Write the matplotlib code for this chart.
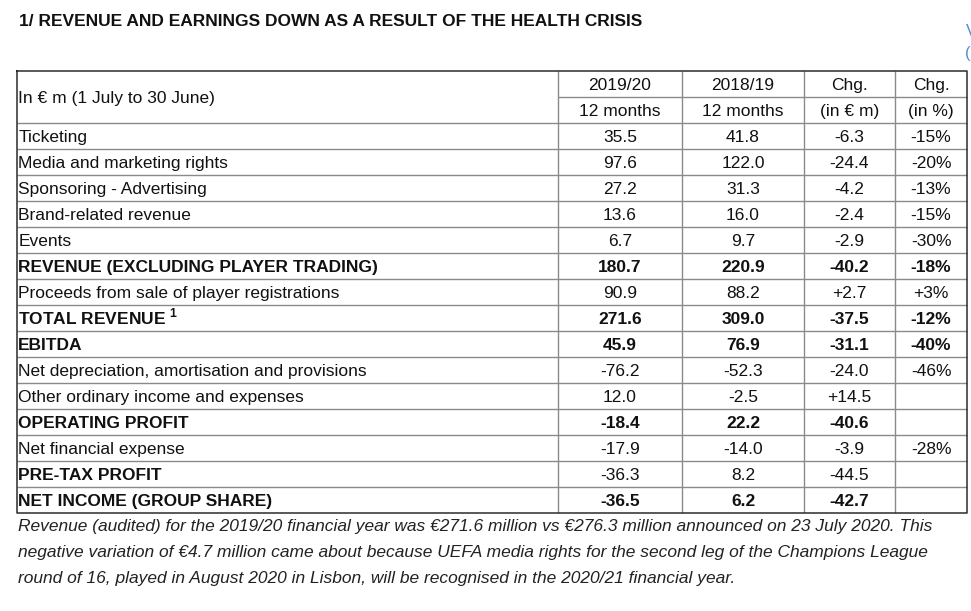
#!/usr/bin/env python3

import matplotlib
matplotlib.use( 'Agg' )
import matplotlib.pyplot as plt

plt.rcParams['font.family'] = ['Liberation Sans', 'DejaVu Sans']
plt.rcParams['mathtext.fontset'] = 'custom'
plt.rcParams['mathtext.rm'] = 'Liberation Sans'
plt.rcParams['mathtext.bf'] = 'Liberation Sans:bold'

title = '1/ REVENUE AND EARNINGS DOWN AS A RESULT OF THE HEALTH CRISIS'

head_label = 'In € m (1 July to 30 June)'
head_top   = [ '2019/20', '2018/19', 'Chg.', 'Chg.' ]
head_bot   = [ '12 months', '12 months', '(in € m)', '(in %)' ]

labels = [ 'Ticketing',
           'Media and marketing rights',
           'Sponsoring - Advertising',
           'Brand-related revenue',
           'Events',
           'REVENUE (EXCLUDING PLAYER TRADING)',
           'Proceeds from sale of player registrations',
           r'TOTAL REVENUE $^{\mathbf{1}}$',
           'EBITDA',
           'Net depreciation, amortisation and provisions',
           'Other ordinary income and expenses',
           'OPERATING PROFIT',
           'Net financial expense',
           'PRE-TAX PROFIT',
           'NET INCOME (GROUP SHARE)' ]

y2020 = [ '35.5', '97.6', '27.2', '13.6', '6.7', '180.7', '90.9', '271.6',
          '45.9', '-76.2', '12.0', '-18.4', '-17.9', '-36.3', '-36.5' ]
y2019 = [ '41.8', '122.0', '31.3', '16.0', '9.7', '220.9', '88.2', '309.0',
          '76.9', '-52.3', '-2.5', '22.2', '-14.0', '8.2', '6.2' ]
chg   = [ '-6.3', '-24.4', '-4.2', '-2.4', '-2.9', '-40.2', '+2.7', '-37.5',
          '-31.1', '-24.0', '+14.5', '-40.6', '-3.9', '-44.5', '-42.7' ]
pct   = [ '-15%', '-20%', '-13%', '-15%', '-30%', '-18%', '+3%', '-12%',
          '-40%', '-46%', '', '', '-28%', '', '' ]

bold_label = [ 5, 7, 8, 11, 13, 14 ]
bold_value = [ 5, 7, 8, 11, 14 ]

note = [ 'Revenue (audited) for the 2019/20 financial year was €271.6 million vs €276.3 million announced on 23 July 2020. This',
         'negative variation of €4.7 million came about because UEFA media rights for the second leg of the Champions League',
         'round of 16, played in August 2020 in Lisbon, will be recognised in the 2020/21 financial year.' ]

# layout in pixels
W, H  = 971, 611
cols  = [ 17, 558, 682, 804, 895, 967 ]
top   = 71
rh    = 26
fs    = 12.55
inner = '#8a8a8a'
outer = '#2b2b2b'
ink   = '#111111'

fig = plt.figure( figsize = ( W / 100, H / 100 ), dpi = 100 )
ax  = fig.add_axes( [ 0, 0, 1, 1 ] )
ax.set_xlim( 0, W )
ax.set_ylim( H, 0 )
ax.axis( 'off' )

ax.text( 19, 26, title, fontsize = 12.55, fontweight = 'bold', color = ink,
         va = 'baseline', ha = 'left' )

# link text cut off at the right edge
ax.text( 965.5, 36, 'V', fontsize = 12, color = '#4a90d9', va = 'baseline' )
ax.text( 965.5, 58, '(', fontsize = 12, color = '#4a90d9', va = 'baseline' )

n = len( labels )
bottom = top + 2 * rh + n * rh

# inner grid lines
for i in range( n ):
    y = top + 2 * rh + i * rh
    ax.plot( [ cols[0], cols[-1] ], [ y, y ], color = inner, lw = 1.0,
             solid_capstyle = 'butt' )
ax.plot( [ cols[1], cols[-1] ], [ top + rh ] * 2, color = inner, lw = 1.0,
         solid_capstyle = 'butt' )
for x in cols[1:-1]:
    ax.plot( [ x, x ], [ top, bottom ], color = inner, lw = 1.0,
             solid_capstyle = 'butt' )

# outer border
ax.plot( [ cols[0], cols[-1], cols[-1], cols[0], cols[0] ],
         [ top, top, bottom, bottom, top ], color = outer, lw = 1.1 )

# header
ax.text( cols[0] + 1.2, top + rh + 6, head_label, fontsize = fs,
         va = 'baseline', ha = 'left', color = ink )
for j in range( 4 ):
    xc = 0.5 * ( cols[j + 1] + cols[j + 2] )
    ax.text( xc, top + 19, head_top[j], fontsize = fs, ha = 'center',
             va = 'baseline', color = ink )
    ax.text( xc, top + rh + 19, head_bot[j], fontsize = fs, ha = 'center',
             va = 'baseline', color = ink )

# body
for i in range( n ):
    yb = top + 2 * rh + i * rh + 19.3
    wl = 'bold' if i in bold_label else 'normal'
    wv = 'bold' if i in bold_value else 'normal'
    ax.text( cols[0] + 1.2, yb, labels[i], fontsize = fs, fontweight = wl,
             va = 'baseline', ha = 'left', color = ink )
    vals = [ y2020[i], y2019[i], chg[i], pct[i] ]
    for j in range( 4 ):
        xc = 0.5 * ( cols[j + 1] + cols[j + 2] )
        ax.text( xc, yb, vals[j], fontsize = fs, fontweight = wv,
                 ha = 'center', va = 'baseline', color = ink )

# footnote
for k in range( len( note ) ):
    ax.text( 17.5, bottom + 18 + k * 26, note[k], fontsize = fs,
             style = 'italic', va = 'baseline', ha = 'left', color = '#222222' )

fig.savefig( 'out.png', dpi = 100 )
